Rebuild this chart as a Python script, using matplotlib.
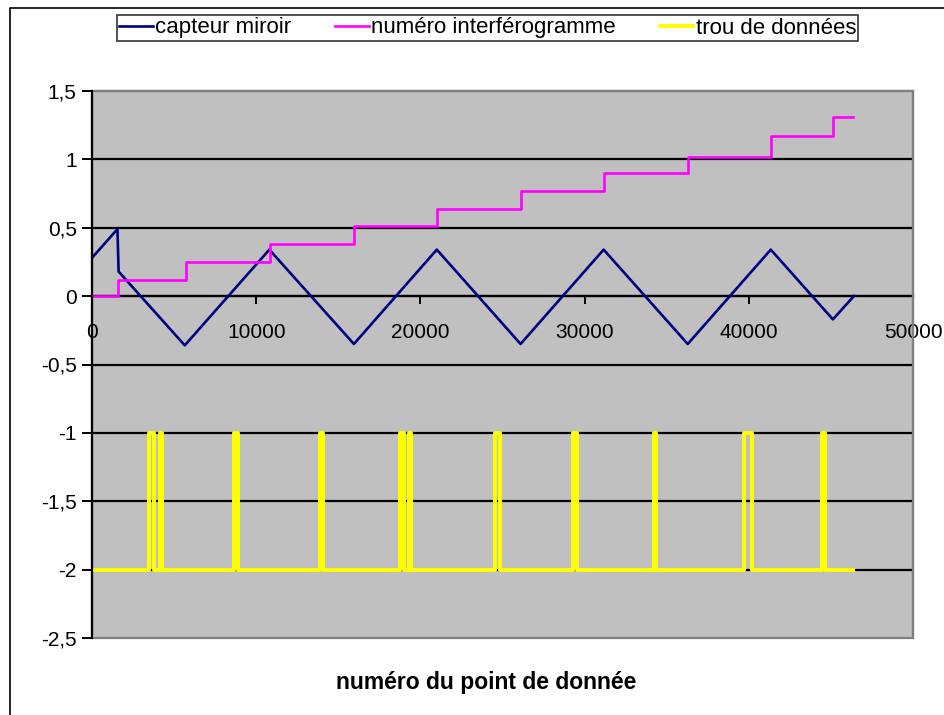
import matplotlib
matplotlib.use("Agg")
import matplotlib.pyplot as plt
from matplotlib.lines import Line2D
from matplotlib.patches import Rectangle

plt.rcParams['font.family'] = ['Liberation Sans', 'DejaVu Sans']

# capteur miroir (vertices of the triangle wave)
mirror_x = [0, 1550, 1620, 5650, 10800, 15950, 21000, 26100, 31160, 36280, 41340, 45120, 46400]
mirror_y = [0.28, 0.49, 0.18, -0.36, 0.34, -0.35, 0.34, -0.35, 0.34, -0.35, 0.34, -0.17, 0.0]

# numéro interférogramme (step starts and levels)
interf_x = [0, 1600, 5750, 10850, 15950, 21000, 26100, 31160, 36280, 41340, 45120, 46340]
interf_y = [0, 0.12, 0.25, 0.38, 0.51, 0.64, 0.77, 0.90, 1.02, 1.17, 1.31, 1.31]

# trou de données: baseline -2, gaps flagged at -1
hole_start = [3460, 4120, 8620, 13910, 18760, 19280, 24560, 29290, 34220, 39700, 44440]
hole_end = [3790, 4250, 8880, 14070, 18990, 19410, 24830, 29550, 34350, 40210, 44640]
hole_base, hole_flag = -2, -1
data_end = 46340

yticks = [1.5, 1, 0.5, 0, -0.5, -1, -1.5, -2, -2.5]
ytick_labels = ['1,5', '1', '0,5', '0', '-0,5', '-1', '-1,5', '-2', '-2,5']
xticks = [0, 10000, 20000, 30000, 40000, 50000]
xtick_labels = ['0', '10000', '20000', '30000', '40000', '50000']

# build the yellow pulse line from gap starts/ends
hx, hy = [0], [hole_base]
for s, e in zip(hole_start, hole_end):
    hx += [s, s, e, e]
    hy += [hole_base, hole_flag, hole_flag, hole_base]
hx.append(data_end)
hy.append(hole_base)

fig = plt.figure(figsize=(9.45, 7.15), dpi=100)
ax = fig.add_axes([92 / 945, 1 - 638 / 715, (913 - 92) / 945, (638 - 91) / 715])
ax.set_facecolor('#C0C0C0')
ax.set_xlim(0, 50000)
ax.set_ylim(-2.5, 1.5)

for y in yticks[1:-1]:
    ax.axhline(y, color='black', lw=1.6, zorder=1)

ax.plot(mirror_x, mirror_y, color='#000080', lw=1.9, zorder=3, label='capteur miroir')
ax.plot(interf_x, interf_y, color='#FF00FF', lw=1.9, drawstyle='steps-post', zorder=4,
        label='numéro interférogramme')
ax.plot(hx, hy, color='#FFFF00', lw=2.8, zorder=5, label='trou de données')

# spines: gray border, left axis black, x axis on y = 0
for side in ['top', 'right']:
    ax.spines[side].set_color('#808080')
    ax.spines[side].set_linewidth(1.6)
ax.add_patch(Rectangle((0, 0), 1, 1, transform=ax.transAxes, fill=False,
                       edgecolor='#808080', lw=1.6, zorder=0.5, clip_on=False))
ax.spines['left'].set_color('black')
ax.spines['left'].set_linewidth(1.6)
ax.spines['left'].set_zorder(6)
ax.spines['bottom'].set_position(('data', 0))
ax.spines['bottom'].set_color('black')
ax.spines['bottom'].set_linewidth(1.6)
ax.spines['bottom'].set_zorder(2)

ax.set_yticks(yticks)
ax.set_yticklabels(ytick_labels)
ax.set_xticks(xticks)
ax.set_xticklabels(xtick_labels)
ax.tick_params(axis='y', direction='out', length=7, width=1.4, pad=4, labelsize=15)
ax.tick_params(axis='x', direction='out', length=6, width=1.4, pad=13, labelsize=15)

fig.text(486 / 945, 1 - 683 / 715, 'numéro du point de donnée', fontsize=16.5,
         fontweight='bold', ha='center', va='center')

# outer chart frame (top and left visible)
fig.add_artist(Line2D([10 / 945, 10 / 945, 1.0], [0.0, 1 - 8 / 715, 1 - 8 / 715],
                      transform=fig.transFigure, color='black', lw=1.2))

leg = fig.legend(loc='center left', bbox_to_anchor=(117 / 945, 1 - 28 / 715), ncol=3,
                 fontsize=16, frameon=True, fancybox=False, edgecolor='black',
                 handlelength=1.5, handletextpad=0.1, columnspacing=2.0,
                 borderpad=0.1, borderaxespad=0)
leg.get_frame().set_linewidth(1.2)

fig.savefig('out.png', dpi=100)
